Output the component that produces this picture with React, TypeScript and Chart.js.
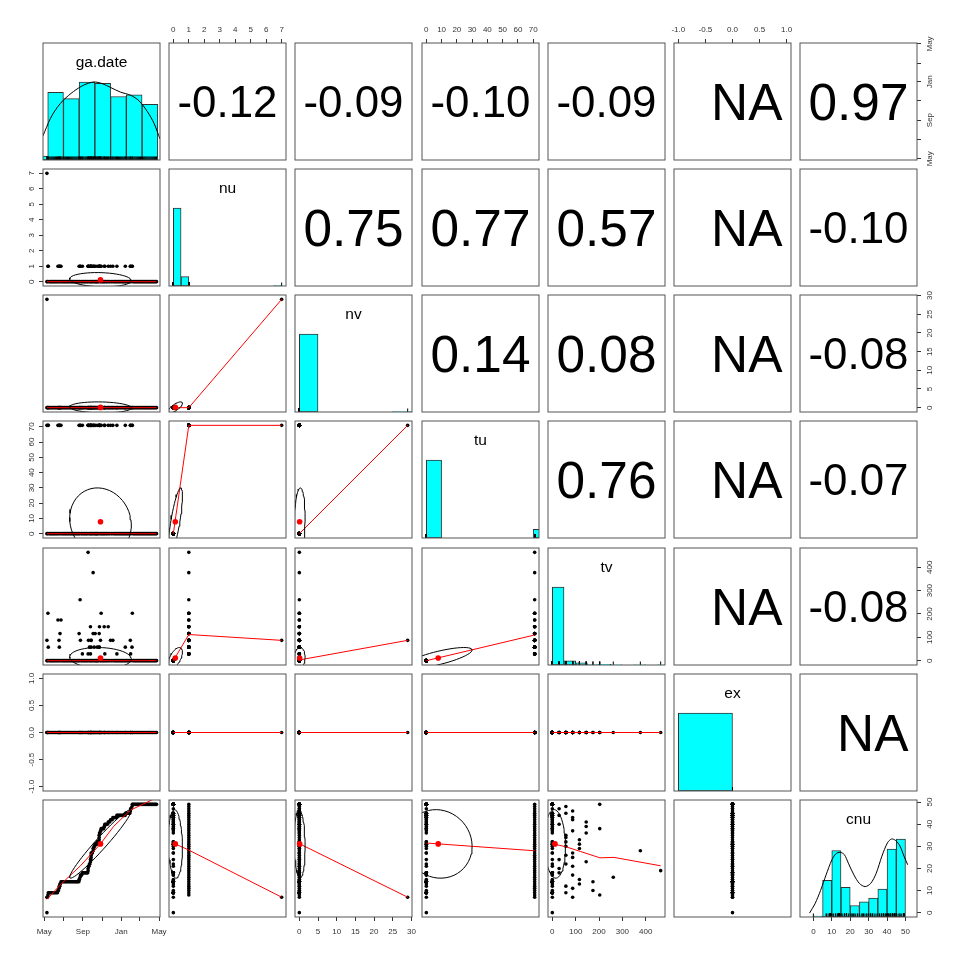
import React, { useEffect, useRef } from "react";
import { Chart, registerables } from "chart.js";

Chart.register(...registerables);

const FONT = '"Liberation Sans", Arial, Helvetica, sans-serif';
Chart.defaults.font.family = FONT;

// ---------------- variables ----------------
const varNames = ["ga.date", "nu", "nv", "tu", "tv", "ex", "cnu"];

// plot limits (R style: range padded by 4%) ; ga.date in days since 1 May
const limDate = [-4, 368];
const limNu = [-0.28, 7.28];
const limNv = [-1.16, 30.16];
const limTu = [-2.84, 73.84];
const limTv = [-18.56, 482.56];
const limEx = [-1.08, 1.08];
const limCnu = [-1.96, 50.96];

// axis ticks
const tickDate = [0, 61, 123, 184, 245, 304, 365];
const tickDateLabels = ["May", "", "Sep", "", "Jan", "", "May"];
const tickNu = [0, 1, 2, 3, 4, 5, 6, 7];
const tickNv = [0, 5, 10, 15, 20, 25, 30];
const tickTu = [0, 10, 20, 30, 40, 50, 60, 70];
const tickTv = [0, 100, 200, 300, 400];
const tickEx = [-1, -0.5, 0, 0.5, 1];
const tickExLabels = ["-1.0", "-0.5", "0.0", "0.5", "1.0"];
const tickCnu = [0, 10, 20, 30, 40, 50];

// ---------------- observations ----------------
// first two rows (same day)
const firstRowDays = [8.5, 8.5];
const firstRowNu = [0, 7];
const firstRowNv = [0, 29];
const firstRowTu = [0, 71];
const firstRowTv = [0, 87];
const firstRowCnu = [0, 7];

// rows without activity (nu = nv = tu = tv = ex = 0)
const quietDays = [
  10,
  15, 18, 21, 24, 27, 30, 33, 36, 39, 42,
  45, 49, 51.5,
  56, 59, 62, 65, 68, 71, 74, 77, 80, 83, 86, 89, 92, 95, 98, 101, 104, 107, 110,
  112, 117, 119,
  123, 126, 129, 132, 135, 138,
  142, 145, 148, 151, 153, 157, 160, 163, 165, 167, 170, 172, 177, 180, 183, 186, 189, 191.5, 195, 198, 201, 205, 208, 213, 216,
  221, 224, 227, 230,
  233, 236, 239, 242, 245, 248, 251, 254, 257,
  260, 263, 266, 269, 272, 276,
  282, 285, 288, 291, 294, 297, 300, 303, 306, 309, 312, 315, 318, 321, 324, 327, 330, 333, 336, 339, 342, 345, 348, 351, 354, 357,
];
const quietCnu = [
  7,
  9, 9, 9, 9, 9, 9, 9, 9, 9, 9,
  10, 12, 13,
  14, 14, 14, 14, 14, 14, 14, 14, 14, 14, 14, 14, 14, 14, 14, 14, 14, 14, 14,
  15, 17, 17,
  18, 18, 18, 18, 18, 18,
  21, 22, 24, 27, 27, 29, 30, 31, 31, 31, 32, 32, 36, 37, 38, 38, 38, 39, 40, 40, 40, 41, 41, 42, 42,
  43, 43, 43, 43,
  44, 44, 44, 44, 44, 44, 44, 44, 44,
  45, 45, 45, 45, 45, 47,
  49, 49, 49, 49, 49, 49, 49, 49, 49, 49, 49, 49, 49, 49, 49, 49, 49, 49, 49, 49, 49, 49, 49, 49, 49, 49,
];

// rows with activity (nu = 1, tu = 71)
const eventNu = 1;
const eventTu = 71;
const eventDays = [
  11.7, 12.8, 43.6, 46.9, 47.9, 50.1, 53.2, 110.8, 113.9, 115, 121.3, 139.4, 139.4, 140.5,
  143.7, 146.9, 146.9, 149, 149, 149, 155.4, 155.4, 158.7, 161.9, 168.3, 174.6, 174.6, 174.6,
  175.6, 178.8, 180.9, 190.6, 192.6, 203.4, 210.7, 218.1, 230.9, 257.7, 273.6, 274.6, 279, 280,
];
const eventTv = [
  203, 58, 174, 87, 58, 116, 174, 116, 261, 87, 29, 464, 29, 87,
  58, 145, 29, 87, 58, 87, 377, 116, 58, 116, 58, 116, 58, 58,
  145, 87, 203, 145, 29, 145, 87, 87, 29, 58, 87, 29, 58, 203,
];
const eventCnu = [
  8, 9, 10, 11, 12, 13, 14, 15, 16, 17, 18, 19, 20, 21,
  22, 23, 24, 25, 26, 27, 28, 29, 30, 31, 32, 33, 34, 35,
  36, 37, 38, 39, 40, 41, 42, 43, 44, 45, 46, 47, 48, 49,
];

// means and standard deviations (red dots / ellipses)
const varMeans = [178.8, 0.127, 0.074, 7.8, 11.3, 0, 31.1];
const varSds = [98, 0.46, 1.47, 22.2, 45, 0, 15.5];

// correlations (upper panels), row variable vs following variables
const corDate = ["-0.12", "-0.09", "-0.10", "-0.09", "NA", "0.97"];
const corNu = ["0.75", "0.77", "0.57", "NA", "-0.10"];
const corNv = ["0.14", "0.08", "NA", "-0.08"];
const corTu = ["0.76", "NA", "-0.07"];
const corTv = ["NA", "-0.08"];
const corEx = ["NA"];

// histograms (heights relative to tallest bar)
const histDateBreaks = [-39, 11, 61, 111, 161, 211, 261, 311, 361];
const histDateHeights = [0.05, 0.866, 0.787, 1.0, 0.984, 0.814, 0.835, 0.713];
const histNuBreaks = [0, 0.5, 1, 1.5, 2, 2.5, 3, 3.5, 4, 4.5, 5, 5.5, 6, 6.5, 7];
const histNuHeights = [1, 0.12, 0, 0, 0, 0, 0, 0, 0, 0, 0, 0, 0, 0.004];
const histNvBreaks = [0, 5, 10, 15, 20, 25, 30];
const histNvHeights = [1, 0, 0, 0, 0, 0.004];
const histTuBreaks = [0, 10, 20, 30, 40, 50, 60, 70, 80];
const histTuHeights = [1, 0, 0, 0, 0, 0, 0, 0.11];
const histTvBreaks = [0, 50, 100, 150, 200, 250, 300, 350, 400, 450, 500];
const histTvHeights = [1, 0.055, 0.028, 0.006, 0.009, 0.003, 0, 0.003, 0, 0.003];
const histExBreaks = [-1, 0, 1];
const histExHeights = [1, 0];
const histCnuBreaks = [0, 5, 10, 15, 20, 25, 30, 35, 40, 45, 50];
const histCnuHeights = [0.012, 0.47, 0.853, 0.379, 0.147, 0.194, 0.241, 0.358, 0.871, 1.0];

// density curves (scaled to max 1)
const densDateX = [-4, 19.2, 40.5, 61.6, 93.5, 125.5, 157.4, 184, 210.7, 242.7, 274.6, 301, 328, 349, 368];
const densDateY = [0.31, 0.53, 0.67, 0.77, 0.88, 0.96, 1.0, 0.98, 0.93, 0.87, 0.83, 0.76, 0.62, 0.47, 0.27];
const densCnuX = [-2.1, 0.9, 3.9, 6.9, 10, 12.2, 14.5, 16.8, 19, 22, 25, 28.1, 31.1, 34.1, 37.2, 40.2, 42.4, 44.7, 47, 49.2, 51.2];
const densCnuY = [0.05, 0.17, 0.34, 0.54, 0.73, 0.81, 0.83, 0.8, 0.69, 0.54, 0.43, 0.39, 0.43, 0.56, 0.78, 0.95, 1.0, 0.98, 0.91, 0.78, 0.67];

// lowess smooths (red lines) [x, y]
const loessNuDate = [[8.5, 0], [357, 0]];
const loessNvDate = [[8.5, 0], [357, 0]];
const loessNvNu = [[0, 0], [1, 0], [7, 29]];
const loessTuDate = [[8.5, 0], [357, 0]];
const loessTuNu = [[0, 0], [1, 71], [7, 71]];
const loessTuNv = [[0, 0], [29, 71]];
const loessTvDate = [[8.5, 0], [357, 0]];
const loessTvNu = [[0, 0], [1, 112], [7, 87]];
const loessTvNv = [[0, 3], [29, 87]];
const loessTvTu = [[0, 0], [71, 110]];
const loessExDate = [[8.5, 0], [357, 0]];
const loessExNu = [[0, 0], [7, 0]];
const loessExNv = [[0, 0], [29, 0]];
const loessExTu = [[0, 0], [71, 0]];
const loessExTv = [[0, 0], [464, 0]];
const loessCnuDate = [[8.5, 6.0], [51, 12.6], [115, 21.2], [178.8, 31.1], [221, 39.1], [274.5, 46.4], [357, 52]];
const loessCnuNu = [[0, 31.5], [1, 28.3], [7, 7]];
const loessCnuNv = [[0, 31.2], [29, 7]];
const loessCnuTu = [[0, 31.5], [71, 28]];
const loessCnuTv = [[0, 31.2], [58, 29.8], [120, 27.7], [204, 24.8], [264, 25], [464, 21.2]];

// ---------------- derived tables ----------------
const limits = [limDate, limNu, limNv, limTu, limTv, limEx, limCnu];
const ticksAll = [tickDate, tickNu, tickNv, tickTu, tickTv, tickEx, tickCnu];
const tickLabelsAll = [
  tickDateLabels,
  tickNu.map(String),
  tickNv.map(String),
  tickTu.map(String),
  tickTv.map(String),
  tickExLabels,
  tickCnu.map(String),
];
const corrRows = [corDate, corNu, corNv, corTu, corTv, corEx];
const hists = [
  [histDateBreaks, histDateHeights],
  [histNuBreaks, histNuHeights],
  [histNvBreaks, histNvHeights],
  [histTuBreaks, histTuHeights],
  [histTvBreaks, histTvHeights],
  [histExBreaks, histExHeights],
  [histCnuBreaks, histCnuHeights],
];
const densities: any[] = [[densDateX, densDateY], null, null, null, null, null, [densCnuX, densCnuY]];
const loessTable: Record<string, number[][]> = {
  "1,0": loessNuDate,
  "2,0": loessNvDate, "2,1": loessNvNu,
  "3,0": loessTuDate, "3,1": loessTuNu, "3,2": loessTuNv,
  "4,0": loessTvDate, "4,1": loessTvNu, "4,2": loessTvNv, "4,3": loessTvTu,
  "5,0": loessExDate, "5,1": loessExNu, "5,2": loessExNv, "5,3": loessExTu, "5,4": loessExTv,
  "6,0": loessCnuDate, "6,1": loessCnuNu, "6,2": loessCnuNv, "6,3": loessCnuTu, "6,4": loessCnuTv,
};

const obsCols: number[][] = [[], [], [], [], [], [], []];
function pushRow(vals: number[]) {
  vals.forEach((v, i) => obsCols[i].push(v));
}
firstRowDays.forEach((d, i) =>
  pushRow([d, firstRowNu[i], firstRowNv[i], firstRowTu[i], firstRowTv[i], 0, firstRowCnu[i]])
);
quietDays.forEach((d, i) => pushRow([d, 0, 0, 0, 0, 0, quietCnu[i]]));
eventDays.forEach((d, i) => pushRow([d, eventNu, 0, eventTu, eventTv[i], 0, eventCnu[i]]));

function corrText(i: number, j: number) {
  const a = Math.min(i, j), b = Math.max(i, j);
  return corrRows[a][b - a - 1];
}

// ---------------- layout ----------------
const PANEL = 116.5;
const ORIGIN_X = 42.75;
const ORIGIN_Y = 42.5;
const PITCH_X = 126.25;
const PITCH_Y = 126.3;
const M = 40;
const CW = Math.round(PANEL + 2 * M);
const TICK_LEN = 4;
const TICK_FONT = 8;
const corrTextWidth = 100;

const measureCanvas = document.createElement("canvas");
const measureCtx = measureCanvas.getContext("2d") as CanvasRenderingContext2D;
function textWidth(s: string, size: number) {
  measureCtx.font = `${size}px ${FONT}`;
  return measureCtx.measureText(s).width;
}

function ellipsePoints(xm: number, ym: number, xs: number, ys: number, r: number) {
  const seg = 51;
  const th = r !== 0 ? Math.sign(r) / Math.SQRT2 : 1 / Math.SQRT2;
  const a = Math.sqrt(1 + r), b = Math.sqrt(1 - r);
  const pts = [];
  for (let k = 0; k <= seg; k++) {
    const ang = (k * 2 * Math.PI) / seg;
    const c = Math.cos(ang), s = Math.sin(ang);
    const ex = c * a * th - s * b * th;
    const ey = c * a * th + s * b * th;
    pts.push({ x: xm + ex * xs, y: ym + ey * ys });
  }
  return pts;
}

function axisScale(v: number, pos: string) {
  const lim = limits[v];
  const vertical = pos === "left" || pos === "right";
  const labels = tickLabelsAll[v];
  let padding: number;
  if (vertical) {
    const widest = Math.max(...labels.map((l) => textWidth(l, TICK_FONT)));
    const dist = pos === "left" ? 11 : 13;
    padding = dist - TICK_LEN - widest / 2;
  } else {
    padding = pos === "bottom" ? 5.7 : 4.7;
  }
  return {
    type: "linear",
    position: pos,
    min: lim[0],
    max: lim[1],
    display: true,
    border: { display: false },
    grid: {
      display: true,
      drawOnChartArea: false,
      drawTicks: true,
      tickLength: TICK_LEN,
      color: "#333",
      tickColor: "#333",
      lineWidth: 1,
      offset: false,
    },
    ticks: {
      autoSkip: false,
      padding,
      color: "#333",
      font: { family: FONT, size: TICK_FONT },
      minRotation: vertical ? 90 : 0,
      maxRotation: vertical ? 90 : 0,
      crossAlign: vertical ? "center" : "near",
      callback: (_val: any, i: number) => labels[i],
    },
    afterBuildTicks: (s: any) => {
      s.ticks = ticksAll[v].map((t) => ({ value: t }));
    },
    afterFit: (s: any) => {
      if (vertical) s.width = M;
      else s.height = M;
      s.paddingLeft = 0;
      s.paddingRight = 0;
      s.paddingTop = 0;
      s.paddingBottom = 0;
    },
  };
}

function hiddenScale(v: number) {
  return { type: "linear", display: false, min: limits[v][0], max: limits[v][1], offset: false };
}

function drawDecor(chart: any, decor: any) {
  const { ctx, chartArea: a } = chart;
  const cx = (a.left + a.right) / 2;
  const cy = (a.top + a.bottom) / 2;
  ctx.save();
  if (decor.corr) {
    const txt = decor.corr === "NA" ? "  NA" : decor.corr;
    ctx.font = `100px ${FONT}`;
    const w = ctx.measureText(txt).width;
    const size = (100 * corrTextWidth) / w;
    ctx.font = `${size}px ${FONT}`;
    const asc = ctx.measureText("0").actualBoundingBoxAscent;
    ctx.fillStyle = "#000";
    ctx.textAlign = "center";
    ctx.textBaseline = "alphabetic";
    ctx.fillText(txt, cx, cy + asc / 2);
  }
  if (decor.label) {
    ctx.font = `15.5px ${FONT}`;
    ctx.fillStyle = "#000";
    ctx.textAlign = "center";
    ctx.textBaseline = "alphabetic";
    ctx.fillText(decor.label, cx, a.top + 23.5);
  }
  ctx.strokeStyle = "#555";
  ctx.lineWidth = 1;
  ctx.strokeRect(a.left, a.top, a.right - a.left, a.bottom - a.top);
  ctx.restore();
}

function buildConfig(r: number, c: number) {
  const showTop = r === 0 && c % 2 === 1;
  const showBottom = r === 6 && c % 2 === 0;
  const showLeft = c === 0 && r % 2 === 1;
  const showRight = c === 6 && r % 2 === 0;
  const scales: any = {
    x: showTop ? axisScale(c, "top") : showBottom ? axisScale(c, "bottom") : hiddenScale(c),
    y: showLeft ? axisScale(r, "left") : showRight ? axisScale(r, "right") : hiddenScale(r),
  };
  const datasets: any[] = [];
  const decor: any = {};

  if (r === c) {
    scales.yh = { type: "linear", axis: "y", display: false, min: 0, max: 1.5 };
    const [breaks, heights] = hists[c];
    datasets.push({
      type: "bar",
      yAxisID: "yh",
      data: heights.map((h, i) => ({ x: (breaks[i] + breaks[i + 1]) / 2, y: h })),
      backgroundColor: "#00ffff",
      borderColor: "#333",
      borderWidth: 1,
      borderSkipped: false,
      categoryPercentage: 1,
      barPercentage: 1,
      order: 5,
    });
    const dens = densities[c];
    if (dens) {
      datasets.push({
        type: "line",
        yAxisID: "yh",
        data: dens[0].map((x: number, i: number) => ({ x, y: dens[1][i] })),
        borderColor: "#000",
        borderWidth: 1,
        pointRadius: 0,
        tension: 0.3,
        order: 4,
      });
    }
    datasets.push({
      type: "scatter",
      yAxisID: "yh",
      data: obsCols[c].map((x) => ({ x, y: 0.0225 })),
      pointStyle: "line",
      rotation: 90,
      pointRadius: 1.75,
      borderColor: "#000",
      borderWidth: 1,
      order: 3,
    });
    decor.label = varNames[c];
  } else if (r > c) {
    datasets.push({
      type: "scatter",
      data: obsCols[c].map((x, i) => ({ x, y: obsCols[r][i] })),
      pointRadius: 1.8,
      backgroundColor: "#000",
      borderWidth: 0,
      order: 5,
    });
    const lo = loessTable[`${r},${c}`];
    if (lo) {
      datasets.push({
        type: "line",
        data: lo.map(([x, y]) => ({ x, y })),
        borderColor: "#ff0000",
        borderWidth: 1,
        pointRadius: 0,
        tension: 0,
        order: 4,
      });
    }
    const ct = corrText(r, c);
    if (ct !== "NA") {
      const rv = parseFloat(ct);
      datasets.push({
        type: "scatter",
        data: [{ x: varMeans[c], y: varMeans[r] }],
        pointRadius: 2.8,
        backgroundColor: "#ff0000",
        borderWidth: 0,
        order: 3,
      });
      datasets.push({
        type: "line",
        data: ellipsePoints(varMeans[c], varMeans[r], varSds[c], varSds[r], rv),
        borderColor: "#000",
        borderWidth: 1,
        pointRadius: 0,
        tension: 0,
        order: 2,
      });
    }
  } else {
    decor.corr = corrText(r, c);
  }

  return {
    type: "scatter",
    data: { datasets },
    options: {
      animation: false,
      responsive: false,
      maintainAspectRatio: false,
      devicePixelRatio: 1,
      events: [],
      layout: {
        padding: {
          left: showLeft ? 0 : M,
          right: showRight ? 0 : M,
          top: showTop ? 0 : M,
          bottom: showBottom ? 0 : M,
        },
      },
      plugins: { legend: { display: false }, tooltip: { enabled: false } },
      scales,
    },
    plugins: [
      {
        id: "decor",
        afterDraw(chart: any) {
          drawDecor(chart, decor);
        },
      },
    ],
  };
}

export default function App() {
  const refs = useRef<(HTMLCanvasElement | null)[]>([]);

  useEffect(() => {
    const charts: Chart[] = [];
    for (let r = 0; r < 7; r++) {
      for (let c = 0; c < 7; c++) {
        const cv = refs.current[r * 7 + c];
        if (cv) charts.push(new Chart(cv, buildConfig(r, c) as any));
      }
    }
    return () => charts.forEach((ch) => ch.destroy());
  }, []);

  const cells = [];
  for (let r = 0; r < 7; r++) {
    for (let c = 0; c < 7; c++) {
      const left = Math.round(ORIGIN_X + c * PITCH_X - M);
      const top = Math.round(ORIGIN_Y + r * PITCH_Y - M);
      cells.push(
        <canvas
          key={`${r}-${c}`}
          ref={(el) => {
            refs.current[r * 7 + c] = el;
          }}
          width={CW}
          height={CW}
          style={{ position: "absolute", left, top, width: CW, height: CW }}
        />
      );
    }
  }

  return (
    <div
      style={{
        position: "absolute",
        left: 0,
        top: 0,
        width: 960,
        height: 960,
        background: "#ffffff",
        overflow: "hidden",
      }}
    >
      {cells}
    </div>
  );
}
